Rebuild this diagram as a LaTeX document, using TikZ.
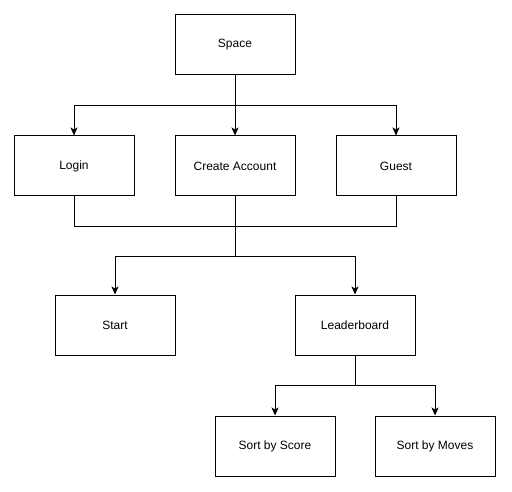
\documentclass[tikz,border=0pt]{standalone}
\usepackage{fontspec}
\setmainfont{Liberation Sans}
\usetikzlibrary{arrows.meta, positioning}

\begin{document}
\begin{tikzpicture}[x=1pt, y=-1pt, line width=1pt,
		>={Stealth[length=8pt,width=7pt,inset=2pt]},
		block/.style={draw,rectangle,align=center,minimum width=120pt, minimum height=60pt, font=\fontsize{12}{14}\selectfont}]
		\useasboundingbox (0,0) rectangle (512,492);
		\node (spc) [block] at (235,45) {Space};
		\node (acc) [block,below=60pt of spc] {Create Account};
		\node (log) [block,left=40pt of acc] {Login};
		\node (gst) [block,right=40pt of acc] {Guest};
		\node (sta) [block] at (115,325) {Start};
		\node (ldb) [block] at (355,325) {Leaderboard};
		\node (sco) [block,below=60pt of ldb,xshift=-80pt] {Sort by Score};
		\node (mov) [block,below=60pt of ldb,xshift=80pt] {Sort by Moves};
		\draw [->] (spc.south) -- ++(0,-30pt) -| (log.north);
		\draw [->] (spc) -- (acc);
		\draw [->] (spc.south) -- ++(0,-30pt) -| (gst.north);
		\draw (log.south) -- ++(0,-30pt) -| (gst.south);
		\draw (acc.south) -- ++(0,-30pt) coordinate (join);
		\draw [->] (join) -- ++(0,-30pt) -| (sta.north);
		\draw [->] (join) -- ++(0,-30pt) -| (ldb.north);
		\draw [->] (ldb.south) -- ++(0,-30pt) -| (sco.north);
		\draw [->] (ldb.south) -- ++(0,-30pt) -| (mov.north);
	\end{tikzpicture}
\end{document}
